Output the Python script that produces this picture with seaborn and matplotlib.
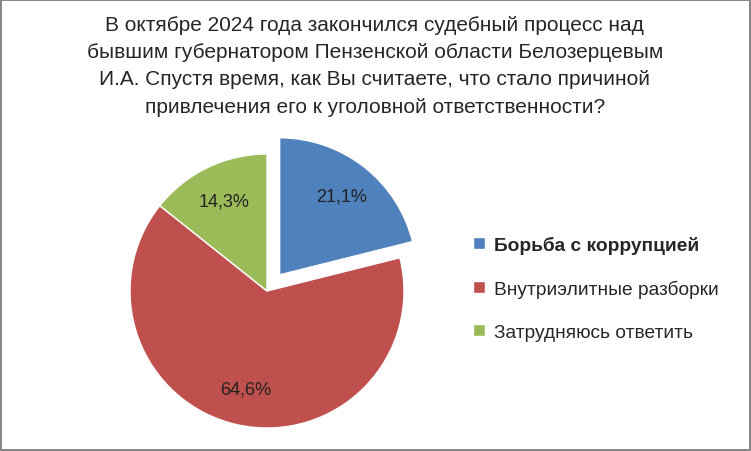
import matplotlib.pyplot as plt
import seaborn as sns

sns.set_style("white")
plt.rcParams['font.family'] = ['Liberation Sans', 'DejaVu Sans']

labels = ['Борьба с коррупцией', 'Внутриэлитные разборки', 'Затрудняюсь ответить']
values = [21.1, 64.6, 14.3]
colors = ['#4F81BD', '#C0504D', '#9BBB59']
title = ('В октябре 2024 года закончился судебный процесс над\n'
         'бывшим губернатором Пензенской области Белозерцевым\n'
         'И.А. Спустя время, как Вы считаете, что стало причиной\n'
         'привлечения его к уголовной ответственности?')

fig = plt.figure(figsize=(7.51, 4.52), dpi=100)
fig.patch.set_edgecolor('#888888')
fig.patch.set_linewidth(1.5)
fig.text(0.499, 0.965, title, ha='center', va='top', fontsize=15, linespacing=1.55)

r = 137
ax = fig.add_axes([(267 - r) / 751, (452 - 292 - r) / 452, 2 * r / 751, 2 * r / 452])
wedges, texts, autotexts = ax.pie(
    values, colors=colors, startangle=90, counterclock=False,
    explode=[0.15, 0, 0], pctdistance=0.73,
    autopct=lambda p: f'{p:.1f}%'.replace('.', ','),
    wedgeprops=dict(edgecolor='white', linewidth=1),
    textprops=dict(fontsize=13, color='#222222'))
ax.set_xlim(-1, 1)
ax.set_ylim(-1, 1)
ax.set_aspect('equal')
ax.axis('off')

leg = fig.legend(wedges, labels, loc='upper left', bbox_to_anchor=(0.607, 0.515),
                 frameon=False, fontsize=13.8, handlelength=0.6, handleheight=0.6,
                 labelspacing=1.35, handletextpad=0.5)
leg.get_texts()[0].set_fontweight('bold')

plt.savefig('out.png', dpi=100)
